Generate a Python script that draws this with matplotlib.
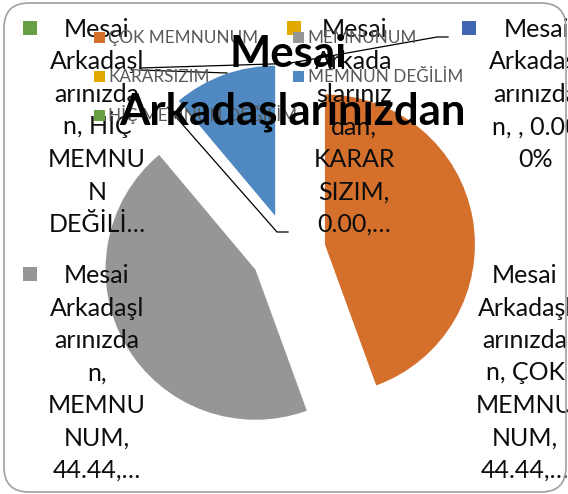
import numpy as np
import matplotlib
matplotlib.use('Agg')
import matplotlib.pyplot as plt
from matplotlib.patches import FancyBboxPatch, Rectangle

plt.rcParams['font.family'] = ['Lato', 'DejaVu Sans']

W, H = 568, 494   # canvas in px, axes work in px too

# ---- data ----------------------------------------------------------------
categories = ['ÇOK MEMNUNUM', 'MEMNUNUM', 'KARARSIZIM', 'MEMNUN DEĞİLİM',
              'HİÇ MEMNUN DEĞİLİM', '']
values = [44.44, 44.44, 0.0, 11.11, 0.0, 0.0]
colors = ['#D4702C', '#969696', '#E2AA00', '#5088C1', '#67A044', '#4267B2']
title_lines = ['Mesai', 'Arkadaşlarınızdan']

# data labels, wrapped the way Excel wrapped them
label_lines = {
    0: ['Mesai', 'Arkadaşl', 'arınızda', 'n, ÇOK', 'MEMNU', 'NUM,', '44.44,…'],
    1: ['Mesai', 'Arkadaşl', 'arınızda', 'n,', 'MEMNU', 'NUM,', '44.44,…'],
    2: ['Mesai', 'Arkada', 'slarınız', 'dan,', 'KARAR', 'SIZIM,', '0.00,…'],
    4: ['Mesai', 'Arkadaşl', 'arınızda', 'n, HİÇ', 'MEMNU', 'N', 'DEĞİLİ…'],
    5: ['Mesai', 'Arkadaşl', 'arınızda', 'n, , 0.00', '0%'],
}
# label block: (center x, first baseline, key square x)  -- image px
label_pos = {0: (525, 283, 458), 1: (97, 283, 30), 2: (354, 37, 294),
             4: (97, 37, 30), 5: (536, 37, 469)}
PITCH = 32.5


def Y(y):
    return H - y


fig = plt.figure(figsize=(W / 100, H / 100), dpi=100)
ax = fig.add_axes([0, 0, 1, 1])

R = 150
wedges, _ = ax.pie(values, colors=colors, startangle=90, counterclock=False,
                   radius=R, center=(288, Y(251)), explode=[0.25 * R] * len(values),
                   wedgeprops=dict(linewidth=0))
ax.set_xlim(0, W); ax.set_ylim(0, H)
ax.set_aspect('equal'); ax.axis('off')


def edge_point(w):
    cx, cy = w.center
    t = np.deg2rad(w.theta1)
    return cx + w.r * np.cos(t), cy + w.r * np.sin(t)


# leader lines
lk = dict(color='black', lw=0.9, zorder=3)
p = edge_point(wedges[2])
ax.plot([288, 277, p[0]], [Y(232), Y(232), p[1]], **lk)
p = edge_point(wedges[4])
ax.plot([140, p[0]], [Y(68), p[1]], **lk)
ax.plot([140, 227], [Y(70), Y(73)], **lk)
p = edge_point(wedges[5])
ax.plot([448, 437, p[0]], [Y(37), Y(37), p[1]], **lk)

# data labels with their key squares
for i, lines in label_lines.items():
    cx, b0, kx = label_pos[i]
    ax.add_patch(Rectangle((kx - 7, Y(b0 - 9) - 7), 14, 14, color=colors[i], lw=0, zorder=4))
    for j, s in enumerate(lines):
        ax.text(cx, Y(b0 + j * PITCH), s, ha='center', va='baseline', fontsize=18,
                color='#0D0D0D', zorder=5)

# legend (inside the plot, 2 columns)
for i, name in enumerate(categories[:5]):
    x = 99.5 + 199 * (i % 2)
    y = 37.5 + 39 * (i // 2)
    ax.add_patch(Rectangle((x - 5.5, Y(y) - 5.5), 11, 11, color=colors[i], lw=0, zorder=6))
    ax.text(x + 9, Y(y + 5.5), name, ha='left', va='baseline', fontsize=12.3,
            color='#595959', zorder=6)

# title
ax.text(288, Y(67), title_lines[0], ha='center', va='baseline', fontsize=31.5,
        fontweight='bold', color='black', zorder=7)
ax.text(292, Y(125), title_lines[1], ha='center', va='baseline', fontsize=31.5,
        fontweight='bold', color='black', zorder=7)

# chart area border
ax.add_patch(FancyBboxPatch((4, Y(492)), 562, 489, boxstyle='round,pad=0,rounding_size=25',
                            fc='none', ec='#A0A0A0', lw=1.2, clip_on=False, zorder=8))

fig.savefig('out.png', dpi=100, facecolor='white')
